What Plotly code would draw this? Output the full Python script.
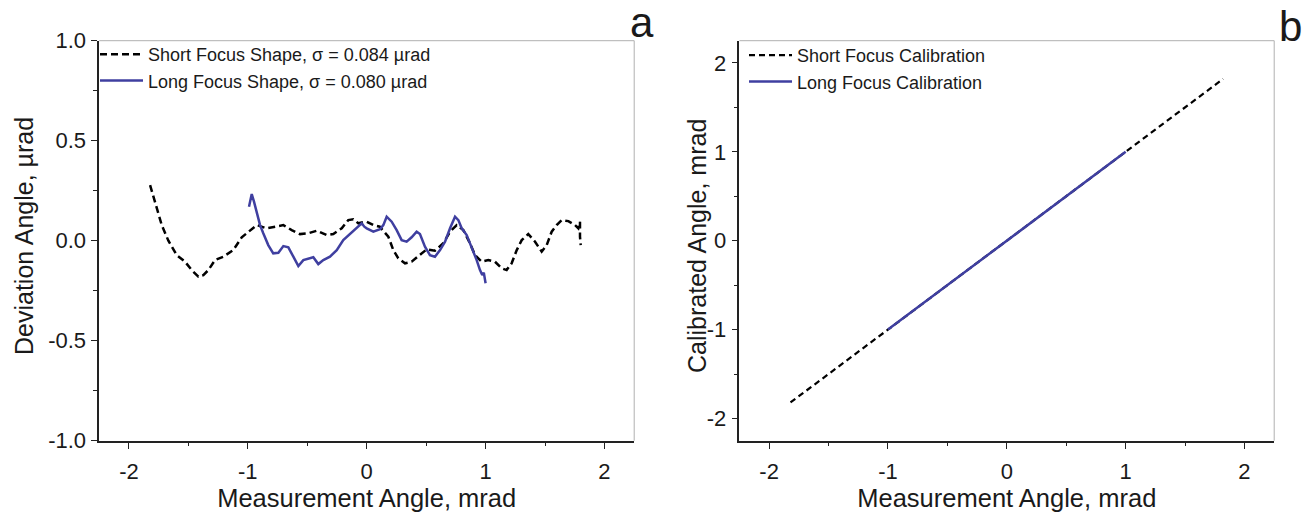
import plotly.graph_objects as go

# ---------------- data (panel a) ----------------
short_shape_x = [-1.822, -1.78, -1.724, -1.668, -1.598, -1.528, -1.472, -1.416, -1.374, -1.332,
                 -1.276, -1.206, -1.122, -1.051, -0.981, -0.925, -0.841, -0.757, -0.701, -0.631,
                 -0.561, -0.491, -0.42, -0.336, -0.281, -0.21, -0.155, -0.113, -0.07, -0.014,
                 0.0, 0.056, 0.11, 0.182, 0.224, 0.266, 0.322, 0.378, 0.448, 0.505,
                 0.574, 0.644, 0.701, 0.757, 0.813, 0.869, 0.911, 0.967, 1.023, 1.079,
                 1.135, 1.177, 1.219, 1.262, 1.304, 1.359, 1.416, 1.472, 1.514, 1.556,
                 1.598, 1.64, 1.696, 1.752, 1.78, 1.794, 1.794, 1.8]
short_shape_y = [0.278, 0.187, 0.078, 0.0, -0.072, -0.105, -0.147, -0.18, -0.172, -0.147,
                 -0.097, -0.08, -0.047, 0.017, 0.053, 0.078, 0.062, 0.07, 0.078, 0.053,
                 0.033, 0.037, 0.05, 0.028, 0.033, 0.062, 0.103, 0.107, 0.087, 0.095,
                 0.095, 0.078, 0.07, 0.02, -0.047, -0.088, -0.113, -0.105, -0.072, -0.043,
                 -0.05, -0.013, 0.045, 0.078, 0.053, -0.013, -0.072, -0.105, -0.097, -0.105,
                 -0.138, -0.147, -0.113, -0.047, 0.003, 0.033, -0.005, -0.055, -0.022, 0.045,
                 0.078, 0.103, 0.098, 0.078, 0.062, 0.095, 0.02, -0.022]

long_shape_x = [-0.99, -0.967, -0.948, -0.925, -0.897, -0.87, -0.828, -0.786, -0.743, -0.701,
                -0.659, -0.617, -0.575, -0.533, -0.491, -0.449, -0.407, -0.365, -0.309, -0.252,
                -0.197, -0.14, -0.084, -0.042, -0.02, 0.0, 0.056, 0.112, 0.14, 0.168,
                0.21, 0.252, 0.294, 0.336, 0.378, 0.42, 0.448, 0.49, 0.532, 0.574,
                0.617, 0.659, 0.701, 0.743, 0.771, 0.799, 0.841, 0.883, 0.925, 0.953,
                0.972, 0.985, 0.99, 1.0]
long_shape_y = [0.17, 0.233, 0.195, 0.137, 0.078, 0.037, -0.022, -0.063, -0.06, -0.027,
                -0.033, -0.08, -0.127, -0.097, -0.088, -0.083, -0.117, -0.097, -0.08, -0.047,
                0.003, 0.033, 0.062, 0.087, 0.07, 0.062, 0.045, 0.057, 0.078, 0.12,
                0.095, 0.053, 0.003, -0.005, 0.017, 0.045, 0.033, -0.03, -0.072, -0.08,
                -0.047, -0.005, 0.062, 0.12, 0.103, 0.062, 0.028, -0.033, -0.097, -0.147,
                -0.172, -0.16, -0.19, -0.213]

# ---------------- data (panel b) ----------------
short_cal_x = [-1.82, 1.82]
short_cal_y = [-1.82, 1.82]
long_cal_x = [-1.0, 1.0]
long_cal_y = [-1.0, 1.0]

x_ticks = [-2, -1, 0, 1, 2]
x_ticklabels = ["-2", "-1", "0", "1", "2"]
ya_ticks = [-1.0, -0.5, 0.0, 0.5, 1.0]
ya_ticklabels = ["-1.0", "-0.5", "0.0", "0.5", "1.0"]
yb_ticks = [-2, -1, 0, 1, 2]
yb_ticklabels = ["-2", "-1", "0", "1", "2"]

BLUE = "#3f3fa0"
FONT = "Liberation Sans, Arial, Helvetica, sans-serif"
TXT = "#1a1a1a"

fig = go.Figure()
fig.add_trace(go.Scatter(x=short_shape_x, y=short_shape_y, mode="lines",
                         name="Short Focus Shape, σ = 0.084 µrad",
                         line=dict(color="black", width=2.5, dash="7px,4px"),
                         xaxis="x", yaxis="y", legend="legend"))
fig.add_trace(go.Scatter(x=long_shape_x, y=long_shape_y, mode="lines",
                         name="Long Focus Shape, σ = 0.080 µrad",
                         line=dict(color=BLUE, width=2.5),
                         xaxis="x", yaxis="y", legend="legend"))
fig.add_trace(go.Scatter(x=short_cal_x, y=short_cal_y, mode="lines",
                         name="Short Focus Calibration",
                         line=dict(color="black", width=2.2, dash="6px,4px"),
                         xaxis="x2", yaxis="y2", legend="legend2"))
fig.add_trace(go.Scatter(x=long_cal_x, y=long_cal_y, mode="lines",
                         name="Long Focus Calibration",
                         line=dict(color=BLUE, width=2.5),
                         xaxis="x2", yaxis="y2", legend="legend2"))

W, H = 1309, 513
xa_dom = [99.2 / W, 634.2 / W]
xb_dom = [739.4 / W, 1274.2 / W]
y_dom = [72.3 / H, 472.3 / H]

common_x = dict(range=[-2.25, 2.25], tickvals=x_ticks, ticktext=x_ticklabels,
                ticks="outside", ticklen=7,
                tickwidth=1.3, tickcolor="#222", showline=True, linecolor="#222", linewidth=1.5,
                showgrid=False, zeroline=False, automargin=False,
                tickfont=dict(family=FONT, size=22, color=TXT), ticklabelstandoff=3,
                minor=dict(dtick=0.5, tick0=0, ticks="outside", ticklen=4, tickcolor="#222",
                           tickwidth=1.2, showgrid=False),
                title=dict(text="Measurement Angle, mrad",
                           font=dict(family=FONT, size=25.5, color=TXT), standoff=6))
common_y = dict(ticks="outside", ticklen=6, tickwidth=1.3, tickcolor="#222", showline=True,
                linecolor="#222", linewidth=1.5, showgrid=False, zeroline=False, automargin=False,
                tickfont=dict(family=FONT, size=22, color=TXT), ticklabelstandoff=1)

fig.update_layout(
    width=W, height=H, margin=dict(l=0, r=0, t=0, b=0),
    paper_bgcolor="white", plot_bgcolor="white", showlegend=True,
    xaxis=dict(domain=xa_dom, anchor="y", **common_x),
    xaxis2=dict(domain=xb_dom, anchor="y2", **common_x),
    yaxis=dict(domain=y_dom, anchor="x", range=[-1, 1], tickvals=ya_ticks,
               ticktext=ya_ticklabels,
               minor=dict(dtick=0.25, tick0=0, ticks="outside", ticklen=4, tickcolor="#222",
                          tickwidth=1.2, showgrid=False),
               **common_y),
    yaxis2=dict(domain=y_dom, anchor="x2", range=[-2.25, 2.25], tickvals=yb_ticks,
                ticktext=yb_ticklabels,
                minor=dict(dtick=0.5, tick0=0, ticks="outside", ticklen=4, tickcolor="#222",
                           tickwidth=1.2, showgrid=False),
                **common_y),
    legend=dict(x=95 / W, y=1 - 36 / H, xanchor="left", yanchor="top",
                bgcolor="rgba(0,0,0,0)", borderwidth=0, itemwidth=43, tracegroupgap=0,
                font=dict(family=FONT, size=18, color=TXT)),
    legend2=dict(x=744 / W, y=1 - 37 / H, xanchor="left", yanchor="top",
                 bgcolor="rgba(0,0,0,0)", borderwidth=0, itemwidth=43, tracegroupgap=0,
                 font=dict(family=FONT, size=18, color=TXT)),
    annotations=[
        dict(text="Deviation Angle, µrad", x=24 / W, y=1 - 236 / H, xref="paper", yref="paper",
             textangle=-90, showarrow=False, font=dict(family=FONT, size=25, color=TXT),
             xanchor="center", yanchor="middle"),
        dict(text="Calibrated Angle, mrad", x=697 / W, y=1 - 246 / H, xref="paper", yref="paper",
             textangle=-90, showarrow=False, font=dict(family=FONT, size=25, color=TXT),
             xanchor="center", yanchor="middle"),
        dict(text="a", x=642 / W, y=1 - 22 / H, xref="paper", yref="paper",
             showarrow=False, font=dict(family=FONT, size=42, color=TXT),
             xanchor="center", yanchor="middle"),
        dict(text="b", x=1290 / W, y=1 - 26 / H, xref="paper", yref="paper",
             showarrow=False, font=dict(family=FONT, size=42, color=TXT),
             xanchor="center", yanchor="middle"),
    ],
    shapes=[
        dict(type="line", xref="x domain", yref="y domain", x0=0, x1=1, y0=1, y1=1,
             line=dict(color="#b0b0b0", width=1)),
        dict(type="line", xref="x domain", yref="y domain", x0=1, x1=1, y0=0, y1=1,
             line=dict(color="#b0b0b0", width=1)),
        dict(type="line", xref="x2 domain", yref="y2 domain", x0=0, x1=1, y0=1, y1=1,
             line=dict(color="#b0b0b0", width=1)),
        dict(type="line", xref="x2 domain", yref="y2 domain", x0=1, x1=1, y0=0, y1=1,
             line=dict(color="#b0b0b0", width=1)),
    ],
)

fig.write_html("out.html")
